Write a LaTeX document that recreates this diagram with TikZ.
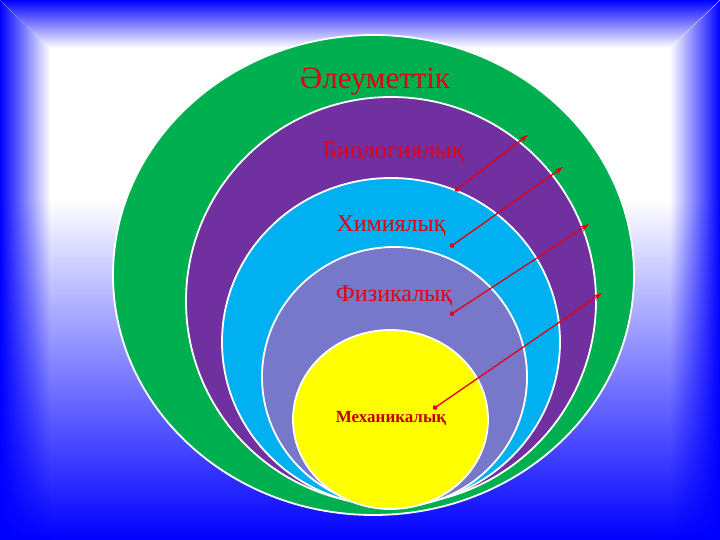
\documentclass[tikz,border=0pt]{standalone}
\usepackage{fontspec}
\setmainfont{Liberation Serif}
\usetikzlibrary{arrows.meta, fadings}

\definecolor{ringgreen}{HTML}{00B050}
\definecolor{ringpurple}{HTML}{7030A0}
\definecolor{ringcyan}{HTML}{00B0F0}
\definecolor{ringlavender}{HTML}{7878CA}
\definecolor{ringyellow}{HTML}{FFFF00}
\definecolor{labelred}{HTML}{E40010}
\definecolor{mechred}{HTML}{C00000}
\definecolor{frameblue}{HTML}{0000FF}

\begin{document}
\begin{tikzpicture}[
    x=1pt, y=-1pt,
    ring/.style={draw=white, line width=1.8pt},
    ringlabel/.style={text=labelred, inner sep=0pt, font=\fontsize{24}{24}\selectfont},
    pointer/.style={{Circle[length=5pt]}-{Stealth[length=9pt, width=6pt]}, labelred, line width=1.3pt}
]

% Background
\useasboundingbox (0,0) rectangle (720,540);
\fill[white] (0,0) rectangle (720,200);
\shade[top color=white, bottom color=frameblue] (0,199.5) rectangle (720,540);

% Bevelled frame
\fill[frameblue, path fading=south] (0,0) -- (720,0) -- (670,48) -- (50,48) -- cycle;
\fill[frameblue, path fading=east] (0,0) -- (50,48) -- (50,540) -- (0,540) -- cycle;
\fill[frameblue, path fading=west] (720,0) -- (670,48) -- (670,540) -- (720,540) -- cycle;

% Nested rings
\foreach \cx/\cy/\rx/\ry/\col in {373.5/275/260.5/240/ringgreen,
                                 391/301/205/204/ringpurple,
                                 391/342/169/164/ringcyan,
                                 394.5/377/132.5/130/ringlavender,
                                 390.5/419.5/97.5/89.5/ringyellow} {
    \fill[ring, fill=\col] (\cx,\cy) ellipse [x radius=\rx, y radius=\ry];
}

% Labels
\node[ringlabel, font=\fontsize{31}{31}\selectfont] (social) at (375,82) {Әлеуметтік};
\node[ringlabel, font=\fontsize{25}{25}\selectfont] (bio) at (393,153) {Биологиялық};
\node[ringlabel] (chem) at (391,226) {Химиялық};
\node[ringlabel] (phys) at (394,296) {Физикалық};
\node[ringlabel, text=mechred, font=\fontsize{17}{17}\selectfont\bfseries] (mech) at (391,418) {Механикалық};

% Arrows
\coordinate (dot1) at (455,191);
\coordinate (tip1) at (528,135);
\coordinate (dot2) at (450,247);
\coordinate (tip2) at (563,167);
\coordinate (dot3) at (450,315);
\coordinate (tip3) at (589,224);
\coordinate (dot4) at (433,409);
\coordinate (tip4) at (602,293);
\foreach \i in {1,...,4} {
    \draw[pointer] (dot\i) -- (tip\i);
}

\end{tikzpicture}
\end{document}
